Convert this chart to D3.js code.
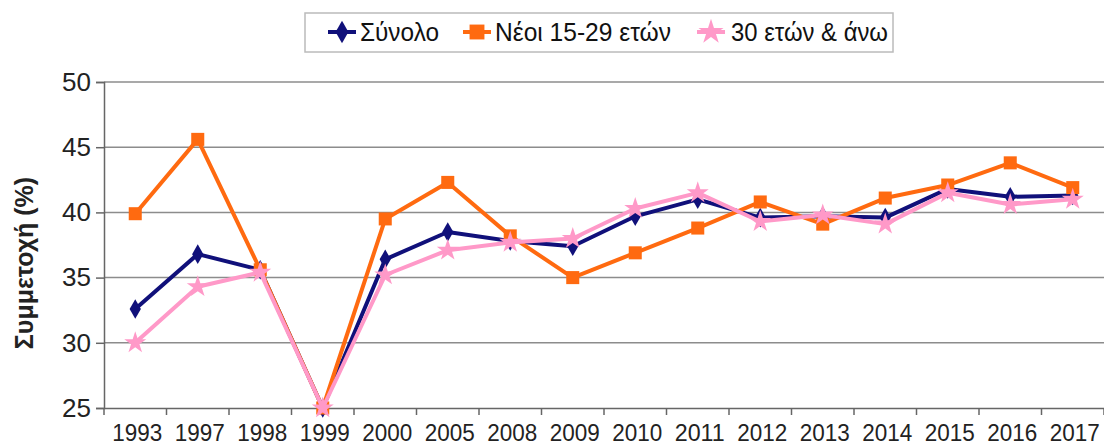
<!DOCTYPE html>
<html><head><meta charset="utf-8">
<script src="https://cdn.jsdelivr.net/npm/d3@7"></script>
<style>body{margin:0;background:#fff}svg{display:block;font-family:"Liberation Sans",Arial,sans-serif}</style>
</head><body><svg id="c" width="1104" height="448"></svg>
<script>
const categories = ["1993","1997","1998","1999","2000","2005","2008","2009","2010","2011","2012","2013","2014","2015","2016","2017"];
const totalValues = [32.6,36.8,35.6,25.0,36.4,38.5,37.8,37.4,39.7,41.0,39.6,39.7,39.6,41.8,41.2,41.3];
const youngValues = [39.9,45.6,35.6,25.0,39.5,42.3,38.2,35.0,36.9,38.8,40.8,39.1,41.1,42.1,43.8,41.9];
const olderValues = [30.0,34.3,35.4,25.0,35.2,37.1,37.7,38.0,40.3,41.5,39.3,39.8,39.1,41.5,40.6,41.0];
const seriesNames = ["Σύνολο","Νέοι 15-29 ετών","30 ετών & άνω"];
const yTicks = [25,30,35,40,45,50];
const yTitle = "Συμμετοχή (%)";

const svg = d3.select("#c");
const pL=104, pR=1104, pT=82, pB=408;
const x = d3.scaleBand().domain(categories).range([pL,pR]);
const y = d3.scaleLinear().domain([25,50]).range([pB,pT]);

// gridlines
svg.append("g").selectAll("line").data(yTicks.filter(t=>t>25)).join("line")
  .attr("x1",pL).attr("x2",pR).attr("y1",d=>y(d)).attr("y2",d=>y(d))
  .attr("stroke","#8c8c8c").attr("stroke-width",1.5);

// y axis
const ya = svg.append("g").attr("transform",`translate(${pL},0)`)
  .call(d3.axisLeft(y).tickValues(yTicks).tickSize(8).tickPadding(5));
ya.select(".domain").attr("stroke","#666").attr("stroke-width",1.5);
ya.selectAll(".tick line").attr("stroke","#666").attr("stroke-width",1.5);
ya.selectAll("text").attr("font-size",26).attr("fill","#222").attr("font-family","Liberation Sans, Arial, sans-serif");

// x axis
const xa = svg.append("g").attr("transform",`translate(0,${pB})`)
  .call(d3.axisBottom(x).tickSize(0).tickPadding(10));
xa.select(".domain").attr("stroke","#666").attr("stroke-width",1.5);
xa.selectAll("text").attr("font-size",23).attr("fill","#222").attr("font-family","Liberation Sans, Arial, sans-serif")
  .attr("y",33).attr("dy",null).attr("dx","2")
  .attr("textLength",50).attr("lengthAdjust","spacingAndGlyphs");
const bounds = categories.map(c=>x(c)).concat([pR]);
svg.append("g").selectAll("line").data(bounds).join("line")
  .attr("x1",d=>d).attr("x2",d=>d).attr("y1",pB).attr("y2",pB+7)
  .attr("stroke","#666").attr("stroke-width",1.5);

// y title
svg.append("text").attr("transform",`translate(33,263) rotate(-90)`)
  .attr("text-anchor","middle").attr("font-size",25).attr("font-weight","bold").attr("fill","#222")
  .text(yTitle);

const cx = c => x(c)+x.bandwidth()/2;
const series = [
  {name:seriesNames[0], values:totalValues, color:"#10107a", marker:"diamond"},
  {name:seriesNames[1], values:youngValues, color:"#ff6a10", marker:"square"},
  {name:seriesNames[2], values:olderValues, color:"#ff99c8", marker:"star"}
];
const symType = {diamond:d3.symbolDiamond, square:d3.symbolSquare, star:d3.symbolStar};
const symSize = {diamond:110, square:170, star:150};
const line = d3.line().x((d,i)=>cx(categories[i])).y(d=>y(d));

series.forEach(s=>{
  const g = svg.append("g");
  g.append("path").datum(s.values).attr("d",line).attr("fill","none")
    .attr("stroke",s.color).attr("stroke-width",4).attr("stroke-linejoin","round");
  g.selectAll("path.m").data(s.values).join("path").attr("class","m")
    .attr("transform",(d,i)=>`translate(${cx(categories[i])},${y(d)})`)
    .attr("d",d3.symbol().type(symType[s.marker]).size(symSize[s.marker]))
    .attr("fill",s.color);
});

// legend
const lg = svg.append("g");
lg.append("rect").attr("x",305).attr("y",13).attr("width",588).attr("height",39)
  .attr("fill","#fff").attr("stroke","#bbb").attr("stroke-width",1.5);
const lpos = [{sx:342,tx:360,w:79},{sx:477,tx:495,w:176},{sx:711,tx:731,w:157}];
series.forEach((s,i)=>{
  lg.append("line").attr("x1",lpos[i].sx-14).attr("x2",lpos[i].sx+14).attr("y1",32).attr("y2",32)
    .attr("stroke",s.color).attr("stroke-width",4);
  lg.append("path").attr("transform",`translate(${lpos[i].sx},32)`)
    .attr("d",d3.symbol().type(symType[s.marker]).size(symSize[s.marker]*1.3)).attr("fill",s.color);
  lg.append("text").attr("x",lpos[i].tx).attr("y",41).attr("font-size",25).attr("fill","#111")
    .attr("textLength",lpos[i].w).attr("lengthAdjust","spacingAndGlyphs").text(s.name);
});
</script></body></html>
